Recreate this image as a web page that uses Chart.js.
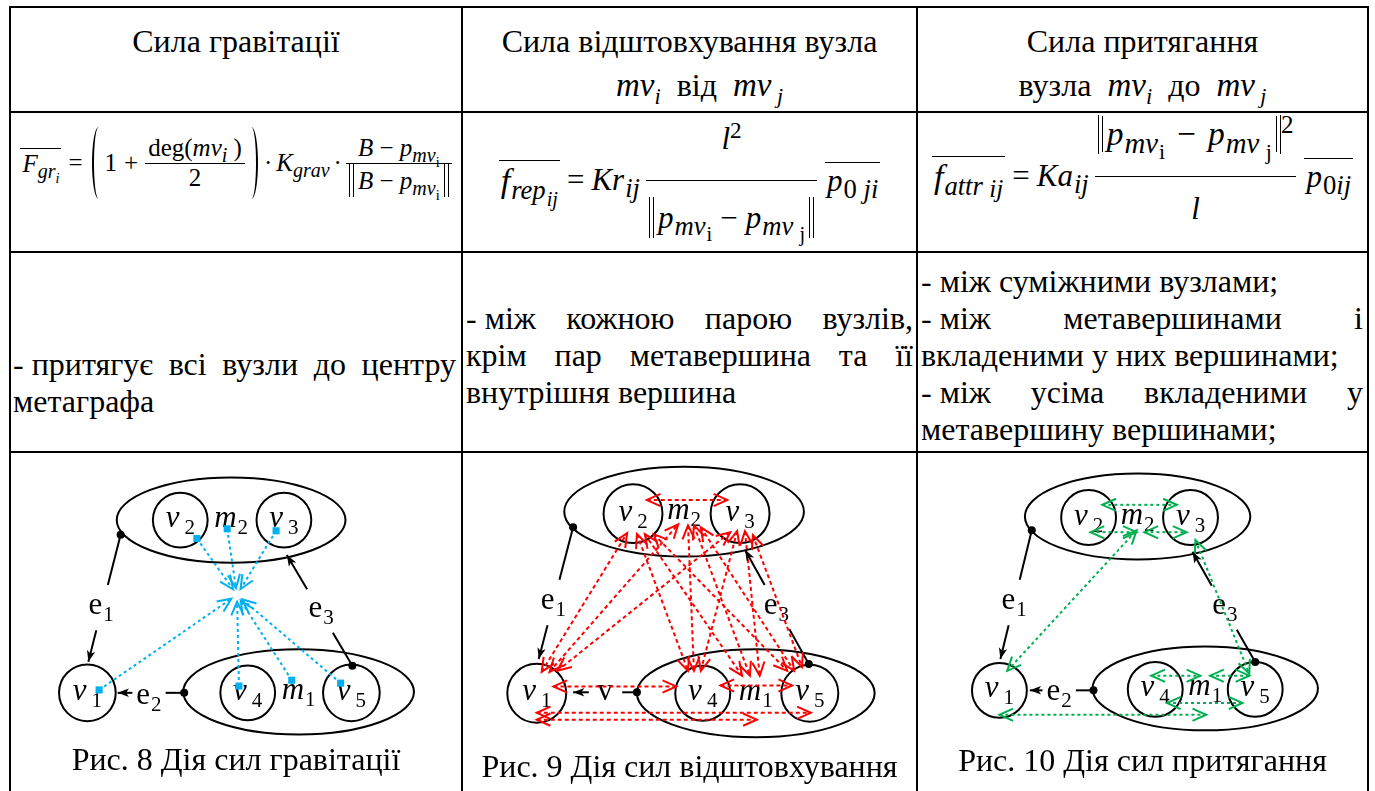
<!DOCTYPE html>
<html>
<head>
<meta charset="utf-8">
<script src="https://cdn.jsdelivr.net/npm/chart.js"></script>
<style>
body { margin: 0; background: #fff; }
#page { position: relative; width: 1375px; height: 791px; overflow: hidden; font-family: "Liberation Serif", "Times New Roman", serif; color: #000; font-size: 32px; }
.hl { position: absolute; left: 9px; width: 1360px; height: 2px; background: #000; }
.vl { position: absolute; top: 6px; width: 2px; height: 800px; background: #000; }
.txt { position: absolute; line-height: 37px; white-space: nowrap; }
.c { text-align: center; }
.j { text-align: justify; text-align-last: justify; }
.ib { display: inline-block; }
.m { font-size: 33px; }
sub, sup { font-size: 0.68em; line-height: 0; }
.f { position: absolute; display: flex; align-items: center; justify-content: center; white-space: nowrap; line-height: 1.15; }
.f sub { font-size: 0.8em; }
.f sub sub { font-size: 0.72em; }
.f sup { font-size: 0.75em; }
.big sub { font-size: 0.86em; padding-left: 1px; }
.big sub sub { font-size: 0.76em; }
.mi { margin: 0 8px; }
.op { margin: 0 7px; }
.ov { display: inline-block; border-top: 1.5px solid #000; line-height: 1.1; padding: 1px 2px 0 2px; }
.pl, .pr { display: inline-block; width: 13px; height: 72px; border: 0 solid #000; border-radius: 50%; box-sizing: border-box; }
.pl { border-left-width: 2px; margin: 0 0 0 2px; }
.pr { border-right-width: 2px; margin: 0 2px 0 0; }
.frac { display: inline-flex; flex-direction: column; }
.frac > .n { display: flex; align-items: flex-end; justify-content: center; border-bottom: 1.5px solid #000; padding: 0 3px; }
.frac > .d { display: flex; align-items: flex-start; justify-content: center; padding: 0 3px; }
.nrm { display: inline-block; border-left: 1.3px solid #000; border-right: 1.3px solid #000; padding: 0 3px; }
.nrm > span { display: inline-block; border-left: 1.3px solid #000; border-right: 1.3px solid #000; padding: 0 4px; line-height: 1.35; }
canvas { position: absolute; }
.cap { position: absolute; line-height: 37px; text-align: center; white-space: nowrap; }
</style>
</head>
<body>
<div id="page">
  <div class="hl" style="top:6px"></div>
  <div class="hl" style="top:111px"></div>
  <div class="hl" style="top:251px"></div>
  <div class="hl" style="top:451px"></div>
  <div class="vl" style="left:9px"></div>
  <div class="vl" style="left:461px"></div>
  <div class="vl" style="left:916px"></div>
  <div class="vl" style="left:1367px"></div>

  <!-- шапка -->
  <div class="txt c" style="left:11px;width:450px;top:23px">Сила гравітації</div>
  <div class="txt c" style="left:463px;width:453px;top:23px">Сила відштовхування вузла</div>
  <div class="txt c" style="left:463px;width:453px;top:67px;padding-left:20px;box-sizing:border-box"><i class="m">mv<sub>i</sub></i>&nbsp; від &nbsp;<i class="m">mv</i><sub>&nbsp;<i>j</i></sub></div>
  <div class="txt c" style="left:918px;width:449px;top:23px">Сила притягання</div>
  <div class="txt c" style="left:918px;width:449px;top:67px">вузла &nbsp;<i class="m">mv<sub>i</sub></i>&nbsp; до &nbsp;<i class="m">mv</i><sub>&nbsp;<i>j</i></sub></div>

  <!-- формули -->
  <div class="f" style="left:11px;width:450px;top:113px;height:100px;font-size:25px">
    <span class="ov"><i>F</i><sub><i>gr</i><sub><i>i</i></sub></sub></span>
    <span class="op">=</span>
    <span class="pl"></span>
    <span>1</span><span class="op">+</span>
    <span class="frac"><span class="n" style="height:30px"><span>deg(<i>mv<sub>i</sub></i>&nbsp;)</span></span><span class="d" style="height:30px"><span>2</span></span></span>
    <span class="pr"></span>
    <span class="op" style="margin:0 4px">·</span><span><i>K</i><sub><i>grav</i></sub></span><span class="op" style="margin:0 4px">·</span>
    <span class="frac"><span class="n" style="height:36px"><span><i>B</i>&nbsp;−&nbsp;<i>p</i><sub><i>mv</i><sub>i</sub></sub></span></span><span class="d" style="height:36px"><span class="nrm"><span><i>B</i>&nbsp;−&nbsp;<i>p</i><sub><i>mv</i><sub>i</sub></sub></span></span></span></span>
  </div>
  <div class="f big" style="left:463px;width:453px;top:113px;height:134px;font-size:31px">
    <span class="ov"><i style="font-size:1.1em">f</i><sub><i>rep</i><sub><i>ij</i></sub></sub></span>
    <span class="op">=</span>
    <span><i>Kr</i><sub><i>ij</i></sub></span>
    <span class="frac" style="margin:0 8px 0 6px"><span class="n" style="height:74px"><span style="padding-bottom:23px"><i>l</i><sup>2</sup></span></span><span class="d" style="height:74px"><span class="nrm" style="margin-top:16px"><span><i>p</i><sub><i>mv</i><sub>i</sub></sub><span class="mi">−</span><i>p</i><sub><i>mv</i><sub>&nbsp;j</sub></sub></span></span></span></span>
    <span class="ov"><i>p</i><sub>0<i>&nbsp;ji</i></sub></span>
  </div>
  <div class="f big" style="left:918px;width:449px;top:113px;height:126px;font-size:31px">
    <span class="ov"><i style="font-size:1.1em">f</i><sub><i>attr</i><i style="font-size:0.95em;position:relative;top:2px"> ij</i></sub></span>
    <span class="op">=</span>
    <span><i>Ka</i><sub><i>ij</i></sub></span>
    <span class="frac" style="margin:0 8px 0 6px"><span class="n" style="height:66px"><span style="padding-bottom:22px;font-size:1.08em"><span class="nrm"><span style="line-height:1.05"><i>p</i><sub><i>mv</i><sub>i</sub></sub><span class="mi" style="margin:0 12px">−</span><i>p</i><sub><i>mv</i><sub>&nbsp;j</sub></sub></span></span><sup>2</sup></span></span><span class="d" style="height:66px"><span style="padding-top:14px"><i>l</i></span></span></span>
    <span class="ov"><i>p</i><sub>0<i>ij</i></sub></span>
  </div>

  <!-- опис -->
  <div class="txt" style="left:13px;width:443px;top:346px">
    <div class="j"><span class="ib">-&nbsp;притягує</span> всі вузли до центру</div>
    <div>метаграфа</div>
  </div>
  <div class="txt" style="left:466px;width:447px;top:300px">
    <div class="j"><span class="ib">-&nbsp;між</span> кожною парою вузлів,</div>
    <div class="j">крім пар метавершина та її</div>
    <div>внутрішня вершина</div>
  </div>
  <div class="txt" style="left:921px;width:442px;top:263px">
    <div>- між суміжними вузлами;</div>
    <div class="j"><span class="ib">-&nbsp;між</span> метавершинами і</div>
    <div>вкладеними у них вершинами;</div>
    <div class="j"><span class="ib">-&nbsp;між</span> усіма вкладеними у</div>
    <div>метавершину вершинами;</div>
  </div>

  <!-- рисунки -->
  <canvas id="fig8" width="450" height="338" style="left:11px;top:453px"></canvas>
  <canvas id="fig9" width="450" height="338" style="left:464px;top:453px"></canvas>
  <canvas id="fig10" width="449" height="338" style="left:918px;top:453px"></canvas>
  <div class="cap" style="left:11px;width:450px;top:741px">Рис. 8 Дія сил гравітації</div>
  <div class="cap" style="left:463px;width:453px;top:748px">Рис. 9 Дія сил відштовхування</div>
  <div class="cap" style="left:918px;width:449px;top:742px">Рис. 10 Дія сил притягання</div>
</div>

<script>
// local coords of each figure cell, y grows downward
const FIG_W = 450;
const FIG_H = 338;

// Рис. 8: [name, index, cx, cy, rx, ry] / [name, index, cx, cy, r]
const fig8Ellipses = [['m', '2', 220, 64, 117, 44], ['m', '1', 289, 241, 118, 44]];
const fig8Circles = [['v', '2', 168, 64, 28], ['v', '3', 274, 64, 28], ['v', '1', 73, 242, 29], ['v', '4', 237, 242, 28], ['v', '5', 343, 242, 29]];
// [label, index, dot x, dot y, tip x, tip y, label x, label y]
const fig8Edges = [['e', '1', 107, 79, 74, 210, 87, 154], ['e', '2', 172, 242, 104, 242, 136, 246], ['e', '3', 344, 214, 277, 100, 312, 157]];
const fig8Points = [[185, 83], [216, 73], [266, 75], [85, 239], [228, 235], [282, 229], [332, 232]];
const fig8Center = [226, 141];

// Рис. 9
const fig9Ellipses = [['m', '2', 220, 56, 122, 46], ['m', '1', 293, 242, 121, 45]];
const fig9Circles = [['v', '2', 168, 58, 30], ['v', '3', 277, 58, 30], ['v', '1', 70, 242, 30], ['v', '4', 239, 242, 28], ['v', '5', 348, 242, 29]];
const fig9Edges = [['e', '1', 107, 72, 72, 207, 87, 149], ['v', '', 172, 241, 107, 241, 140, 242], ['e', '3', 347, 212, 282, 95, 314, 154]];
// [x1, y1, x2, y2]
const fig9Arrows = [
  [75, 220, 162, 78], [83, 220, 214, 69], [91, 219, 267, 77],
  [172, 79, 224, 219], [180, 79, 279, 224], [189, 79, 325, 219],
  [224, 70, 230, 219], [230, 70, 287, 224], [237, 72, 332, 219],
  [274, 76, 237, 219], [282, 76, 297, 224], [290, 80, 340, 215],
  [182, 44, 264, 44], [87, 235, 212, 235], [257, 234, 330, 234],
  [70, 262, 349, 262], [70, 269, 294, 269]
];

// Рис. 10
const fig10Ellipses = [['m', '2', 220, 61, 115, 44], ['m', '1', 289, 237, 115, 43]];
const fig10Circles = [['v', '2', 170, 62, 28], ['v', '3', 274, 62, 28], ['v', '1', 79, 239, 28], ['v', '4', 238, 238, 28], ['v', '5', 340, 238, 28]];
const fig10Edges = [['e', '1', 112, 75, 80, 207, 94, 149], ['e', '2', 175, 239, 110, 239, 140, 242], ['e', '3', 340, 210, 276, 97, 309, 154]];
const fig10Arrows = [
  [184, 49, 260, 49], [172, 77, 219, 77], [227, 77, 270, 77],
  [87, 219, 219, 75], [279, 85, 334, 222],
  [234, 224, 284, 224], [294, 224, 334, 224],
  [250, 252, 327, 252], [79, 264, 290, 264]
];

const BLUE = '#00B0F0';
const RED = '#FF0000';
const GREEN = '#00B050';
const SERIF = '"Liberation Serif", "Times New Roman", serif';

function seg(x1, y1, x2, y2, color, dash, heads, headStyle) {
  return {
    data: [{x: x1, y: y1}, {x: x2, y: y2}],
    showLine: true,
    borderColor: color,
    borderWidth: 2,
    borderDash: dash,
    pointRadius: 0,
    fill: false,
    heads: heads,
    headStyle: headStyle
  };
}

function drawName(ctx, cx, cy, main, sub, italic) {
  ctx.fillStyle = '#000';
  ctx.textAlign = 'left';
  ctx.textBaseline = 'alphabetic';
  ctx.font = (italic ? 'italic ' : '') + '31px ' + SERIF;
  const w = ctx.measureText(main).width;
  ctx.font = '21px ' + SERIF;
  const ws = sub ? ctx.measureText(sub).width : 0;
  const gap = main === 'v' && italic ? 5 : 1;
  const x0 = cx - (w + gap + ws) / 2;
  const base = cy + 7;
  ctx.font = (italic ? 'italic ' : '') + '31px ' + SERIF;
  ctx.fillText(main, x0, base);
  if (sub) {
    ctx.font = '21px ' + SERIF;
    ctx.fillText(sub, x0 + w + gap, base + 7);
  }
}

function head(ctx, from, to, color, style) {
  const a = Math.atan2(to.y - from.y, to.x - from.x);
  ctx.save();
  ctx.setLineDash([]);
  ctx.strokeStyle = color;
  ctx.fillStyle = color;
  ctx.lineWidth = 2;
  if (style === 'solid') {
    const len = 12, w = 0.36;
    ctx.beginPath();
    ctx.moveTo(to.x, to.y);
    ctx.lineTo(to.x - len * Math.cos(a - w), to.y - len * Math.sin(a - w));
    ctx.lineTo(to.x - len * 0.7 * Math.cos(a), to.y - len * 0.7 * Math.sin(a));
    ctx.lineTo(to.x - len * Math.cos(a + w), to.y - len * Math.sin(a + w));
    ctx.closePath();
    ctx.fill();
  } else {
    const len = 15, w = 0.42;
    ctx.beginPath();
    ctx.moveTo(to.x - len * Math.cos(a - w), to.y - len * Math.sin(a - w));
    ctx.lineTo(to.x, to.y);
    ctx.lineTo(to.x - len * Math.cos(a + w), to.y - len * Math.sin(a + w));
    ctx.stroke();
  }
  ctx.restore();
}

const figPlugin = {
  id: 'figShapes',
  beforeDatasetsDraw(chart, args, opts) {
    const ctx = chart.ctx;
    const sx = chart.scales.x, sy = chart.scales.y;
    ctx.save();
    ctx.strokeStyle = '#000';
    ctx.lineWidth = 2;
    opts.ellipses.forEach(e => {
      const cx = sx.getPixelForValue(e[2]), cy = sy.getPixelForValue(e[3]);
      const rx = Math.abs(sx.getPixelForValue(e[2] + e[4]) - cx);
      const ry = Math.abs(sy.getPixelForValue(e[3] + e[5]) - cy);
      ctx.beginPath();
      ctx.ellipse(cx, cy, rx, ry, 0, 0, Math.PI * 2);
      ctx.stroke();
      drawName(ctx, cx, cy, e[0], e[1], true);
    });
    opts.circles.forEach(c => {
      const cx = sx.getPixelForValue(c[2]), cy = sy.getPixelForValue(c[3]);
      const r = Math.abs(sx.getPixelForValue(c[2] + c[4]) - cx);
      ctx.beginPath();
      ctx.arc(cx, cy, r, 0, Math.PI * 2);
      ctx.stroke();
      drawName(ctx, cx, cy, c[0], c[1], true);
    });
    opts.edges.forEach(e => {
      drawName(ctx, sx.getPixelForValue(e[6]), sy.getPixelForValue(e[7]), e[0], e[1], false);
    });
    ctx.restore();
  },
  afterDatasetsDraw(chart) {
    const ctx = chart.ctx;
    chart.data.datasets.forEach((ds, i) => {
      if (!ds.heads) return;
      const pts = chart.getDatasetMeta(i).data;
      head(ctx, pts[0], pts[1], ds.borderColor, ds.headStyle);
      if (ds.heads === 'both') head(ctx, pts[1], pts[0], ds.borderColor, ds.headStyle);
    });
  }
};

function edgeSets(edges) {
  const sets = [];
  edges.forEach(e => {
    const [x1, y1, x2, y2, lx, ly] = e.slice(2);
    const dx = x2 - x1, dy = y2 - y1, L = Math.hypot(dx, dy);
    const ux = dx / L, uy = dy / L;
    const t = (lx - x1) * ux + (ly - y1) * uy;
    const g = Math.abs(ux) * 15 + Math.abs(uy) * 19 + 2;
    sets.push(seg(x1, y1, x1 + ux * (t - g), y1 + uy * (t - g), '#000', [], null));
    sets.push(seg(x1 + ux * (t + g), y1 + uy * (t + g), x2, y2, '#000', [], 'end', 'solid'));
  });
  sets.push({
    data: edges.map(e => ({x: e[2], y: e[3]})),
    pointRadius: 4,
    backgroundColor: '#000',
    borderWidth: 0
  });
  return sets;
}

function buildFig(id, ellipses, circles, edges, forces) {
  new Chart(document.getElementById(id), {
    type: 'scatter',
    data: {datasets: forces.concat(edgeSets(edges))},
    options: {
      responsive: false,
      animation: false,
      events: [],
      layout: {padding: 0},
      scales: {
        x: {type: 'linear', min: 0, max: FIG_W, display: false},
        y: {type: 'linear', min: 0, max: FIG_H, reverse: true, display: false}
      },
      plugins: {
        legend: {display: false},
        tooltip: {enabled: false},
        figShapes: {ellipses: ellipses, circles: circles, edges: edges}
      }
    },
    plugins: [figPlugin]
  });
}

// Рис. 8 - arrows from each node to the centre
const gravity = fig8Points.map(p => {
  const dx = fig8Center[0] - p[0], dy = fig8Center[1] - p[1], L = Math.hypot(dx, dy);
  return seg(p[0], p[1], fig8Center[0] - dx / L * 7, fig8Center[1] - dy / L * 7, BLUE, [3, 3], 'end', 'open');
});
gravity.push({
  data: fig8Points.map(p => ({x: p[0], y: p[1]})),
  pointStyle: 'rect',
  pointRadius: 5,
  backgroundColor: BLUE,
  borderWidth: 0
});
buildFig('fig8', fig8Ellipses, fig8Circles, fig8Edges, gravity);

buildFig('fig9', fig9Ellipses, fig9Circles, fig9Edges,
  fig9Arrows.map(a => seg(a[0], a[1], a[2], a[3], RED, [4, 3], 'both', 'open')));

buildFig('fig10', fig10Ellipses, fig10Circles, fig10Edges,
  fig10Arrows.map(a => seg(a[0], a[1], a[2], a[3], GREEN, [3, 3], 'both', 'open')));
</script>
</body>
</html>
